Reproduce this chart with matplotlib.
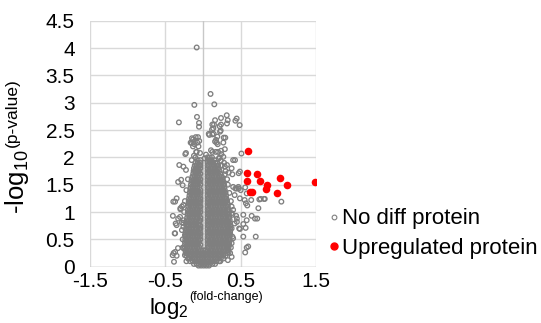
import matplotlib
matplotlib.use("Agg")
import matplotlib.pyplot as plt
from matplotlib.lines import Line2D

plt.rcParams.update({
    "font.family": ["Liberation Sans", "DejaVu Sans"],
    "mathtext.fontset": "custom",
    "mathtext.rm": "Liberation Sans",
    "mathtext.it": "Liberation Sans",
    "mathtext.default": "regular",
    "figure.facecolor": "white",
    "axes.facecolor": "white",
})

GRAY = "#7f7f7f"
RED = "#ff0000"
GRID = "#d9d9d9"
W, H = 541, 323

# upregulated proteins (log2 fold-change, -log10 p-value)
up_x = [0.60, 0.59, 0.72, 0.59, 0.757, 1.02, 1.11, 1.49, 0.846, 0.833, 0.646, 0.624, 0.979]
up_y = [2.11, 1.71, 1.69, 1.56, 1.57, 1.63, 1.49, 1.55, 1.49, 1.43, 1.37, 1.36, 1.34]

# no-diff proteins, sparse ones outside the dense core
nd_x = [-0.084, 0.10, 0.15, -0.115, -0.08, -0.053, -0.053, -0.32,
        0.315, 0.239, 0.447, 0.487, 0.328, 0.16, 0.124, 0.146, 0.239, 0.137,
        0.235, 0.076, 0.124, 0.19, 0.275, 0.296, 0.16, 0.18, 0.27, 0.106,
        0.169, 0.239, 0.29, 0.40, 0.51, 0.21, 0.27, 0.235, 0.29, 0.38, 0.29,
        0.39, 0.47, 0.40, 0.43, 0.318, 0.22, 0.12, 0.226, 0.084, 0.142, 0.173,
        0.195, 0.243, 0.2, 0.124, 0.425, 0.318, 0.34, 0.49, 0.473,
        -0.066, -0.146, -0.128, -0.164, -0.075, -0.133, -0.235, 0.04, -0.05,
        -0.06, -0.09, -0.12, -0.04, -0.13, -0.097, -0.15, -0.115, -0.226, -0.084,
        -0.315, -0.26, -0.226, -0.33, -0.29, -0.27, -0.35, -0.37, -0.394,
        -0.28, -0.26, -0.30, -0.40, -0.33, -0.305, -0.26, -0.28, -0.35, -0.26,
        -0.37, -0.28, -0.24, -0.39, -0.37, -0.35, -0.385, -0.26, -0.24, -0.332,
        -0.403, -0.376, -0.363, -0.3,
        0.43, 0.473, 0.50, 0.58, 0.553, 0.57, 0.588, 0.748, 0.81, 1.04, 0.735,
        0.44, 0.646, 0.72, 0.45, 0.48, 0.566, 0.70, 0.58, 0.56, 0.56, 0.535,
        0.69, 0.535, 0.58, 0.49, 0.535, 0.60, 0.40, 0.38, 0.45, 0.42, 0.36,
        0.40, 0.38, 0.34, 0.38, 0.49, 0.42, 0.447, 0.64, 0.766, 0.82,
        0.30, 0.32, 0.33, 0.35, 0.37, 0.38, 0.39, 0.38, 0.39, 0.37, 0.36, 0.33,
        0.25, 0.28, 0.22, -0.20, -0.22, -0.24, -0.25, -0.26, -0.27, -0.27,
        -0.22, -0.15, -0.10, 0.02]
nd_y = [4.01, 3.16, 2.97, 2.96, 2.74, 2.63, 2.56, 2.64,
        2.77, 2.72, 2.71, 2.59, 2.68, 2.68, 2.60, 2.60, 2.60, 2.53,
        2.49, 2.43, 2.42, 2.38, 2.36, 2.36, 2.29, 2.27, 2.27, 2.13,
        2.10, 2.12, 2.15, 1.95, 2.07, 1.98, 2.01, 1.94, 1.83, 1.80, 1.69,
        1.69, 1.46, 1.46, 2.67, 2.62, 2.57, 2.51, 2.47, 2.41, 2.43, 2.32,
        2.24, 2.06, 2.10, 2.10, 1.95, 1.86, 1.72, 1.74, 1.71,
        2.37, 2.35, 2.28, 2.27, 2.27, 2.20, 2.06, 2.05, 2.30,
        2.20, 2.10, 2.03, 2.08, 2.33, 2.37, 2.26, 2.24, 2.08, 2.10,
        1.86, 1.83, 1.77, 1.55, 1.59, 1.49, 1.25, 1.19, 1.19,
        1.10, 1.13, 1.05, 0.93, 0.88, 0.91, 0.85, 0.81, 0.76, 0.73,
        0.61, 0.67, 0.58, 0.25, 0.27, 0.20, 0.09, 0.34, 0.21, 0.34,
        0.21, 0.61, 0.79, 1.07,
        1.43, 1.43, 1.40, 1.34, 1.22, 1.16, 1.12, 1.23, 1.24, 1.19, 1.07,
        0.93, 0.93, 0.88, 0.82, 0.70, 0.71, 0.55, 0.35, 0.26, 1.45, 0.95,
        0.88, 0.78, 0.85, 0.69, 0.55, 0.37, 1.04, 0.98, 0.88, 0.79, 0.64,
        0.52, 0.43, 0.27, 0.18, 1.25, 1.31, 1.43, 1.22, 1.24, 1.24,
        1.75, 1.60, 1.50, 1.35, 1.20, 1.10, 0.95, 0.70, 0.55, 0.35, 0.25, 0.12,
        1.85, 1.90, 2.00, 1.60, 1.40, 1.20, 1.00, 0.80, 0.50, 0.35,
        0.10, 1.95, 2.00, 1.98]

# no-diff proteins, dense core: one p-value level per row with its fold-changes
core_y = [2.00, 1.95, 1.90, 1.85, 1.80, 1.75, 1.70, 1.65, 1.60, 1.55, 1.50,
          1.45, 1.40, 1.35, 1.30, 1.25, 1.20, 1.15, 1.10, 1.05, 1.00, 0.95,
          0.90, 0.85, 0.80, 0.75, 0.70, 0.65, 0.60, 0.55, 0.50, 0.45, 0.40,
          0.35, 0.30, 0.25, 0.20, 0.15, 0.10, 0.05, 0.02]
core_x = [
    [0.06, 0.09, 0.12],
    [-0.07, -0.035, 0.06, 0.085, 0.115, 0.15],
    [-0.10, -0.07, -0.035, 0.06, 0.095, 0.13, 0.165, 0.19],
    [-0.11, -0.085, -0.055, -0.035, 0.06, 0.08, 0.115, 0.15, 0.185, 0.20],
    [-0.12, -0.09, -0.06, -0.035, 0.06, 0.095, 0.13, 0.165, 0.20, 0.21],
    [-0.125, -0.105, -0.07, -0.045, 0.06, 0.08, 0.115, 0.15, 0.185, 0.22],
    [-0.13, -0.095, -0.06, -0.035, 0.06, 0.095, 0.13, 0.165, 0.20, 0.235],
    [-0.14, -0.11, -0.075, -0.045, 0.06, 0.08, 0.115, 0.15, 0.185, 0.22, 0.25],
    [-0.15, -0.12, -0.09, -0.06, -0.035, 0.06, 0.095, 0.13, 0.165, 0.20, 0.235, 0.26],
    [-0.155, -0.125, -0.095, -0.065, -0.04, 0.06, 0.08, 0.115, 0.15, 0.185, 0.22, 0.255, 0.27],
    [-0.16, -0.13, -0.10, -0.07, -0.035, 0.06, 0.095, 0.13, 0.165, 0.20, 0.235, 0.27, 0.28],
    [-0.165, -0.135, -0.105, -0.075, -0.045, 0.06, 0.08, 0.115, 0.15, 0.185, 0.22, 0.255, 0.285],
    [-0.17, -0.14, -0.105, -0.07, -0.035, 0.06, 0.095, 0.13, 0.165, 0.20, 0.235, 0.27, 0.29],
    [-0.175, -0.15, -0.12, -0.09, -0.06, -0.035, 0.06, 0.08, 0.115, 0.15, 0.185, 0.22, 0.255, 0.29, 0.30],
    [-0.18, -0.145, -0.11, -0.075, -0.04, 0.06, 0.095, 0.13, 0.165, 0.20, 0.235, 0.27, 0.305],
    [-0.185, -0.16, -0.125, -0.09, -0.06, -0.035, 0.06, 0.08, 0.115, 0.15, 0.185, 0.22, 0.255, 0.29, 0.31],
    [-0.19, -0.155, -0.12, -0.085, -0.05, -0.035, 0.06, 0.095, 0.13, 0.165, 0.20, 0.235, 0.27, 0.305, 0.32],
    [-0.19, -0.17, -0.135, -0.10, -0.065, -0.04, 0.06, 0.08, 0.115, 0.15, 0.185, 0.22, 0.255, 0.29, 0.325],
    [-0.195, -0.16, -0.125, -0.09, -0.055, -0.035, 0.06, 0.095, 0.13, 0.165, 0.20, 0.235, 0.27, 0.305, 0.33],
    [-0.20, -0.175, -0.14, -0.105, -0.07, -0.04, 0.06, 0.08, 0.115, 0.15, 0.185, 0.22, 0.255, 0.29, 0.325, 0.335],
    [-0.20, -0.165, -0.13, -0.095, -0.06, -0.035, 0.06, 0.095, 0.13, 0.165, 0.20, 0.235, 0.27, 0.305, 0.34],
    [-0.205, -0.18, -0.145, -0.11, -0.075, -0.045, 0.06, 0.08, 0.115, 0.15, 0.185, 0.22, 0.255, 0.29, 0.325, 0.345],
    [-0.21, -0.175, -0.14, -0.105, -0.07, -0.035, 0.06, 0.095, 0.13, 0.165, 0.20, 0.235, 0.27, 0.305, 0.34, 0.35],
    [-0.215, -0.19, -0.155, -0.12, -0.085, -0.05, -0.035, 0.06, 0.08, 0.115, 0.15, 0.185, 0.22, 0.255, 0.29, 0.325, 0.355],
    [-0.22, -0.185, -0.15, -0.115, -0.08, -0.045, 0.06, 0.095, 0.13, 0.165, 0.20, 0.235, 0.27, 0.305, 0.34, 0.36],
    [-0.22, -0.195, -0.16, -0.125, -0.09, -0.055, -0.035, 0.06, 0.08, 0.115, 0.15, 0.185, 0.22, 0.255, 0.29, 0.325, 0.36],
    [-0.225, -0.19, -0.155, -0.12, -0.085, -0.05, -0.035, 0.06, 0.095, 0.13, 0.165, 0.20, 0.235, 0.27, 0.305, 0.34, 0.36],
    [-0.23, -0.205, -0.17, -0.135, -0.10, -0.065, -0.04, 0.06, 0.08, 0.115, 0.15, 0.185, 0.22, 0.255, 0.29, 0.325, 0.36],
    [-0.23, -0.195, -0.16, -0.125, -0.09, -0.055, -0.035, 0.06, 0.095, 0.13, 0.165, 0.20, 0.235, 0.27, 0.305, 0.34, 0.36],
    [-0.235, -0.21, -0.175, -0.14, -0.105, -0.07, -0.04, 0.06, 0.08, 0.115, 0.15, 0.185, 0.22, 0.255, 0.29, 0.325, 0.355],
    [-0.235, -0.20, -0.165, -0.13, -0.095, -0.06, -0.035, 0.06, 0.095, 0.13, 0.165, 0.20, 0.235, 0.27, 0.305, 0.34, 0.355],
    [-0.24, -0.215, -0.18, -0.145, -0.11, -0.075, -0.045, 0.06, 0.08, 0.115, 0.15, 0.185, 0.22, 0.255, 0.29, 0.325, 0.35],
    [-0.24, -0.205, -0.17, -0.135, -0.10, -0.065, -0.035, 0.06, 0.095, 0.13, 0.165, 0.20, 0.235, 0.27, 0.305, 0.34, 0.35],
    [-0.24, -0.215, -0.18, -0.145, -0.11, -0.075, -0.045, 0.06, 0.08, 0.115, 0.15, 0.185, 0.22, 0.255, 0.29, 0.325, 0.34],
    [-0.235, -0.20, -0.165, -0.13, -0.095, -0.06, -0.03, 0.0, 0.03, 0.06, 0.095, 0.13, 0.165, 0.20, 0.235, 0.27, 0.305, 0.33],
    [-0.23, -0.213, -0.178, -0.143, -0.108, -0.073, -0.038, -0.003, 0.032, 0.067, 0.102, 0.137, 0.172, 0.207, 0.242, 0.277, 0.32],
    [-0.22, -0.185, -0.15, -0.115, -0.08, -0.045, -0.01, 0.025, 0.06, 0.095, 0.13, 0.165, 0.20, 0.235, 0.27, 0.30],
    [-0.20, -0.183, -0.148, -0.113, -0.078, -0.043, -0.008, 0.027, 0.062, 0.097, 0.132, 0.167, 0.202, 0.237, 0.27],
    [-0.17, -0.135, -0.10, -0.065, -0.03, 0.005, 0.04, 0.075, 0.11, 0.145, 0.18, 0.215, 0.23],
    [-0.12, -0.085, -0.05, -0.015, 0.02, 0.055, 0.09, 0.125, 0.16],
    [-0.06, -0.025, 0.01, 0.045, 0.08],
]

x_ticks = [-1.5, -0.5, 0.5, 1.5]
y_ticks = [0, 0.5, 1, 1.5, 2, 2.5, 3, 3.5, 4, 4.5]

# flatten the core rows
cx, cy = [], []
for yv, row in zip(core_y, core_x):
    cx += row
    cy += [yv] * len(row)

fig = plt.figure(figsize=(W / 100, H / 100), dpi=100)
ax = fig.add_axes([90 / W, 1 - 266.7 / H, 226 / W, 246 / H])

ax.set_xlim(-1.5, 1.5)
ax.set_ylim(0, 4.5)
ax.set_xticks(x_ticks)
ax.set_xticklabels([f"{t:g}" for t in x_ticks])
ax.set_yticks(y_ticks)
ax.set_yticklabels([f"{t:g}" for t in y_ticks])
ax.tick_params(length=0, labelsize=15)
ax.tick_params(axis="y", pad=11)
ax.tick_params(axis="x", pad=4)
ax.grid(True, color=GRID, linewidth=1.0, zorder=0)
ax.set_axisbelow(True)
for s in ax.spines.values():
    s.set_visible(False)
ax.axhline(0, color="#bfbfbf", linewidth=1.0, zorder=1)
ax.axvline(0, color="#c8c8c8", linewidth=1.0, zorder=1)

ax.scatter(cx + nd_x, cy + nd_y, s=11, facecolors="none", edgecolors=GRAY,
           linewidths=0.95, zorder=3, clip_on=False)
ax.scatter(up_x, up_y, s=30, color=RED, linewidths=0, zorder=4)

# axis titles: main text plus small superscript, as in the source
fig.text(189 / W, 1 - 314 / H, r"log$_{2}$", fontsize=16, ha="right", va="baseline")
fig.text(189 / W, 1 - 300 / H, "(fold-change)", fontsize=9, ha="left", va="baseline")
fig.text(24 / W, 1 - 149 / H, r"-log$_{10}$", fontsize=18.5, rotation=90,
         rotation_mode="anchor", ha="right", va="baseline")
fig.text(17 / W, 1 - 147 / H, "(p-value)", fontsize=12.5, rotation=90,
         rotation_mode="anchor", ha="left", va="baseline")

handles = [
    Line2D([], [], linestyle="none", marker="o", markersize=3.4,
           markerfacecolor="none", markeredgecolor=GRAY, markeredgewidth=0.8),
    Line2D([], [], linestyle="none", marker="o", markersize=5,
           markerfacecolor=RED, markeredgecolor=RED),
]
fig.legend(handles, ["No diff protein", "Upregulated protein"],
           loc="upper left", bbox_to_anchor=(0.607, 0.355),
           frameon=False, fontsize=16, handlelength=0.5, handletextpad=0.1,
           labelspacing=0.4, borderaxespad=0, borderpad=0)

fig.savefig("out.png", dpi=100)
